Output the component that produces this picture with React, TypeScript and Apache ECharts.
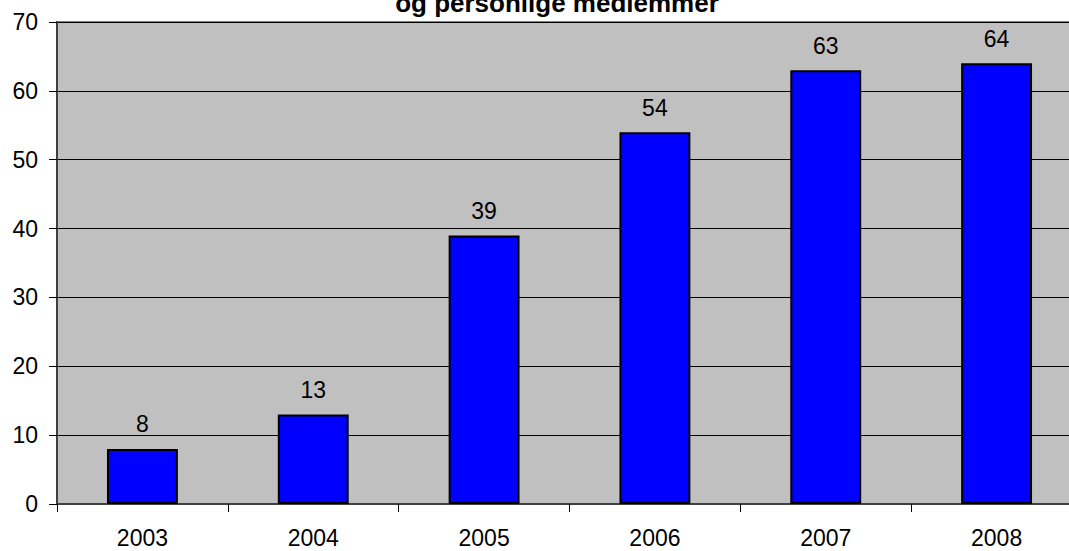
import React, { useEffect, useRef } from "react";
import * as echarts from "echarts";

const titleText = "og personlige medlemmer";
const years = ["2003", "2004", "2005", "2006", "2007", "2008"];
const values = [8, 13, 39, 54, 63, 64];

export default function App() {
  const ref = useRef<HTMLDivElement>(null);
  useEffect(() => {
    if (!ref.current) return;
    const chart = echarts.init(ref.current, null, { renderer: "svg" });
    chart.setOption({
      animation: false,
      backgroundColor: "#ffffff",
      textStyle: { fontFamily: "Liberation Sans, Arial, sans-serif" },
      title: {
        text: titleText,
        left: 552,
        textAlign: "center",
        top: -15,
        textStyle: { fontSize: 26, fontWeight: "bold", color: "#000", fontFamily: "Liberation Sans, Arial, sans-serif" },
      },
      grid: {
        left: 57,
        right: -13,
        top: 22,
        bottom: 47,
        outerBoundsMode: "none",
        containLabel: false,
        show: true,
        backgroundColor: "#c0c0c0",
        borderColor: "#808080",
        borderWidth: 2,
      },
      xAxis: {
        type: "category",
        data: years,
        axisLine: { show: true, lineStyle: { color: "#404040", width: 2 } },
        axisTick: { show: true, length: 8, lineStyle: { color: "#000", width: 1 } },
        axisLabel: { fontSize: 23, color: "#000", margin: 22 },
      },
      yAxis: {
        type: "value",
        min: 0,
        max: 70,
        interval: 10,
        axisLine: { show: true, lineStyle: { color: "#404040", width: 2 } },
        axisTick: { show: true, length: 8, lineStyle: { color: "#000", width: 1 } },
        axisLabel: { fontSize: 23, color: "#000", margin: 19 },
        splitLine: { show: true, lineStyle: { color: "#000", width: 1 } },
      },
      series: [
        {
          type: "bar",
          data: values,
          barWidth: "41.5%",
          itemStyle: { color: "#0000ff", borderColor: "#000", borderWidth: 2 },
          label: { show: true, position: "top", distance: 13, fontSize: 23, color: "#000" },
        },
      ],
    });
    return () => chart.dispose();
  }, []);
  return <div ref={ref} style={{ position: "fixed", left: 0, top: 0, width: 1069, height: 551 }} />;
}
